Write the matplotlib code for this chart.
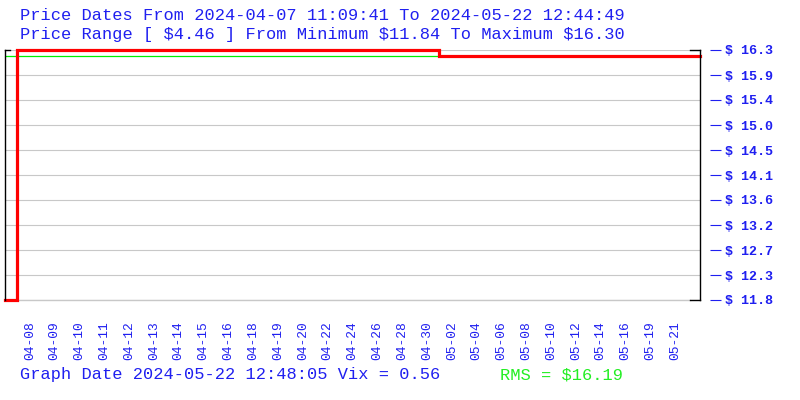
import matplotlib
matplotlib.use("Agg")
import matplotlib.pyplot as plt
import numpy as np

# ---- data ----
date_labels = ["04-08", "04-09", "04-10", "04-11", "04-12", "04-13", "04-14",
               "04-15", "04-16", "04-18", "04-19", "04-20", "04-22", "04-24",
               "04-26", "04-28", "04-30", "05-02", "05-04", "05-06", "05-08",
               "05-10", "05-12", "05-14", "05-16", "05-19", "05-21"]
label_positions = list(range(1, 28))
prices = [11.84] + [16.30] * 17 + [16.19] * 11
price_min = 11.84
price_max = 16.30
rms_value = 16.19
price_tick_labels = ["$ 11.8", "$ 12.3", "$ 12.7", "$ 13.2", "$ 13.6", "$ 14.1",
                     "$ 14.5", "$ 15.0", "$ 15.4", "$ 15.9", "$ 16.3"]

title1 = "Price Dates From 2024-04-07 11:09:41 To 2024-05-22 12:44:49"
title2 = "Price Range [ $4.46 ] From Minimum $11.84 To Maximum $16.30"
footer1 = "Graph Date 2024-05-22 12:48:05 Vix = 0.56"
footer2 = "RMS = $16.19"

BLUE = "#1f1ff0"
GREEN = "#22ee22"
MONO = "Liberation Mono"

fig = plt.figure(figsize=(8, 4), dpi=100)
ax = fig.add_axes([5 / 800, 0.25, 695 / 800, 0.625])

x = np.arange(len(prices))
ax.set_xlim(0, len(prices) - 1)
ax.set_ylim(price_min, price_max)

yticks = np.linspace(price_min, price_max, len(price_tick_labels))
ax.set_yticks(yticks)
ax.set_yticklabels(price_tick_labels)
ax.yaxis.grid(True, color="#c8c8c8", linewidth=0.8)
ax.set_axisbelow(True)

ax.axhline(rms_value, color="#00ee00", linewidth=0.9, zorder=2)
ax.plot(x, prices, color="#ff0000", linewidth=2.3, drawstyle="steps-mid",
        clip_on=False, zorder=3, solid_joinstyle="miter")

# spines
for s in ["top", "bottom", "left"]:
    ax.spines[s].set_visible(False)
ax.spines["right"].set_position(("outward", 7.2))
ax.spines["right"].set_visible(False)
ax.yaxis.tick_right()
ax.tick_params(axis="y", which="both", direction="out", length=7.9, width=0.8,
               color=BLUE, labelcolor=BLUE, pad=2.8)
for lab in ax.get_yticklabels():
    lab.set_fontfamily(MONO)
    lab.set_fontweight("bold")
    lab.set_fontsize(9.6)

# bracket-like frame
k = dict(transform=ax.transAxes, color="black", linewidth=1.0, clip_on=False, zorder=4)
ax.plot([0, 0], [0, 1], **k)
ax.plot([0, 0.007], [1, 1], **k)
ax.plot([1, 1], [0, 1], **k)
ax.plot([0.986, 1], [1, 1], **k)
ax.plot([0.986, 1], [0, 0], **k)
ax.axhline(price_min, color="#c8c8c8", linewidth=1.0, xmax=0.986, zorder=1,
           clip_on=False)

ax.set_xticks(label_positions)
ax.set_xticklabels(date_labels, rotation=90, fontfamily=MONO, fontsize=9.3,
                   color=BLUE)
ax.tick_params(axis="x", length=0, pad=15)

fig.text(20 / 800, 1 - 15 / 400, title1, color=BLUE, fontfamily=MONO,
         fontsize=12.25, va="center", ha="left")
fig.text(20 / 800, 1 - 35 / 400, title2, color=BLUE, fontfamily=MONO,
         fontsize=12.25, va="center", ha="left")
fig.text(20 / 800, 1 - 375 / 400, footer1, color=BLUE, fontfamily=MONO,
         fontsize=12.25, va="center", ha="left")
fig.text(500 / 800, 1 - 375 / 400, footer2, color=GREEN, fontfamily=MONO,
         fontsize=12.25, va="center", ha="left")

fig.savefig("out.png", dpi=100)
